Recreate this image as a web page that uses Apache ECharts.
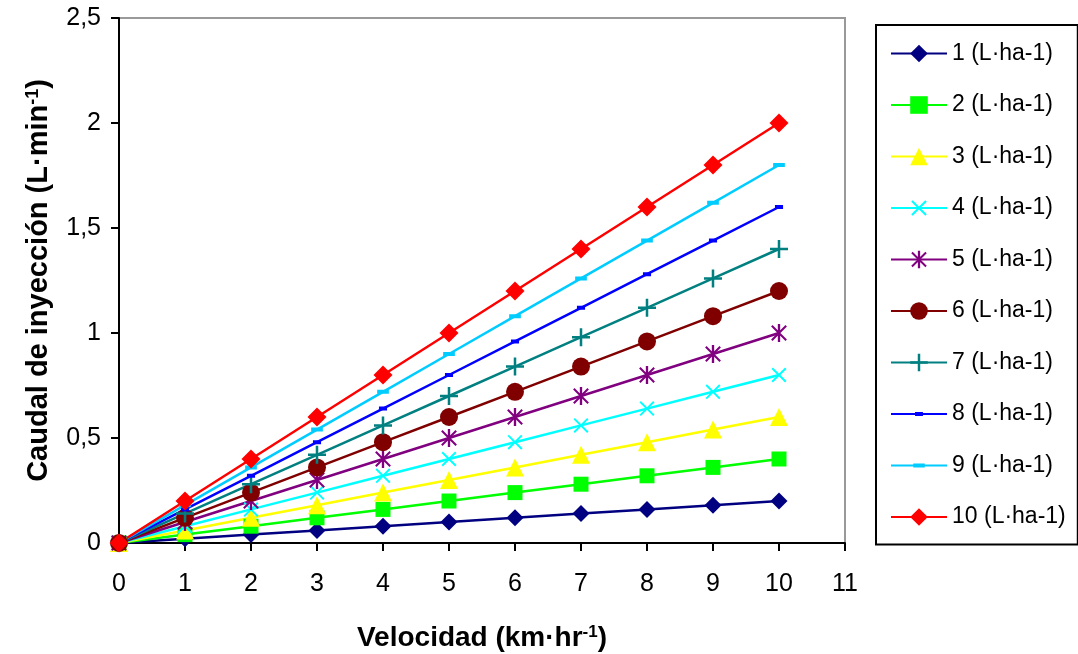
<!DOCTYPE html>
<html>
<head>
<meta charset="utf-8">
<script src="https://cdn.jsdelivr.net/npm/echarts@6/dist/echarts.min.js"></script>
<style>
  html, body { margin: 0; padding: 0; background: #fff; }
  #main { width: 1078px; height: 654px; }
</style>
</head>
<body>
<div id="main"></div>
<script>
var velocidad = [0, 1, 2, 3, 4, 5, 6, 7, 8, 9, 10];

var dosis1  = [0, 0.02, 0.04, 0.06, 0.08, 0.10, 0.12, 0.14, 0.16, 0.18, 0.20];
var dosis2  = [0, 0.04, 0.08, 0.12, 0.16, 0.20, 0.24, 0.28, 0.32, 0.36, 0.40];
var dosis3  = [0, 0.06, 0.12, 0.18, 0.24, 0.30, 0.36, 0.42, 0.48, 0.54, 0.60];
var dosis4  = [0, 0.08, 0.16, 0.24, 0.32, 0.40, 0.48, 0.56, 0.64, 0.72, 0.80];
var dosis5  = [0, 0.10, 0.20, 0.30, 0.40, 0.50, 0.60, 0.70, 0.80, 0.90, 1.00];
var dosis6  = [0, 0.12, 0.24, 0.36, 0.48, 0.60, 0.72, 0.84, 0.96, 1.08, 1.20];
var dosis7  = [0, 0.14, 0.28, 0.42, 0.56, 0.70, 0.84, 0.98, 1.12, 1.26, 1.40];
var dosis8  = [0, 0.16, 0.32, 0.48, 0.64, 0.80, 0.96, 1.12, 1.28, 1.44, 1.60];
var dosis9  = [0, 0.18, 0.36, 0.54, 0.72, 0.90, 1.08, 1.26, 1.44, 1.62, 1.80];
var dosis10 = [0, 0.20, 0.40, 0.60, 0.80, 1.00, 1.20, 1.40, 1.60, 1.80, 2.00];

var nombres = ['1 (L·ha-1)', '2 (L·ha-1)', '3 (L·ha-1)', '4 (L·ha-1)', '5 (L·ha-1)',
               '6 (L·ha-1)', '7 (L·ha-1)', '8 (L·ha-1)', '9 (L·ha-1)', '10 (L·ha-1)'];
var yTicks = ['0', '0,5', '1', '1,5', '2', '2,5'];

var FONT = '"Liberation Sans", Arial, sans-serif';

// marcadores estilo Excel (caja 0..20 para que la leyenda no los deforme)
var SYM_X = 'path://M0,0L0,0ZM20,20L20,20Z' +
    'M2.8,1.2L18.8,17.2L17.2,18.8L1.2,2.8Z' +
    'M2.8,18.8L1.2,17.2L17.2,1.2L18.8,2.8Z';
var SYM_AST = 'path://M0,0L0,0ZM20,20L20,20Z' +
    'M8.7,0H11.3V20H8.7Z' +
    'M2.8,1.2L18.8,17.2L17.2,18.8L1.2,2.8Z' +
    'M2.8,18.8L1.2,17.2L17.2,1.2L18.8,2.8Z';
var SYM_PLUS = 'path://M0,0L0,0ZM20,20L20,20Z' +
    'M8.6,0H11.4V8.6H20V11.4H11.4V20H8.6V11.4H0V8.6H8.6Z';
var SYM_DASH_S = 'path://M0,0L0,0ZM20,20L20,20ZM5.5,7.8H14.5V12.2H5.5Z';
var SYM_DASH_L = 'path://M0,0L0,0ZM20,20L20,20ZM3.5,7.8H16.5V12.2H3.5Z';

function pares(ys) {
    return velocidad.map(function (x, i) { return [x, ys[i]]; });
}

function serie(idx, datos, color, symbol, size) {
    return {
        name: nombres[idx],
        type: 'line',
        data: pares(datos),
        symbol: symbol,
        symbolSize: size,
        showAllSymbol: true,
        lineStyle: { color: color, width: 2.5 },
        itemStyle: { color: color, borderWidth: 0 },
        emphasis: { disabled: true }
    };
}

var chart = echarts.init(document.getElementById('main'));

chart.setOption({
    animation: false,
    backgroundColor: '#fff',
    textStyle: { fontFamily: FONT },
    grid: {
        left: 119,
        right: 233,
        top: 18,
        bottom: 111,
        outerBoundsMode: 'none',
        containLabel: false,
        show: true,
        borderColor: '#999',
        borderWidth: 2,
        backgroundColor: 'transparent'
    },
    legend: {
        orient: 'vertical',
        left: 876,
        top: 25,
        padding: [17, 12, 16, 14],
        itemWidth: 56,
        itemHeight: 22,
        itemGap: 28.5,
        borderColor: '#000',
        borderWidth: 2,
        textStyle: { fontSize: 23, color: '#000', fontFamily: FONT },
        data: nombres
    },
    xAxis: {
        type: 'value',
        min: 0,
        max: 11,
        interval: 1,
        name: '{t|Velocidad (km·hr}{s|-1}{t|)}',
        nameLocation: 'middle',
        nameGap: 81,
        nameTextStyle: {
            rich: {
                t: { fontSize: 28, fontWeight: 'bold', color: '#000', fontFamily: FONT },
                s: { fontSize: 17, fontWeight: 'bold', color: '#000', fontFamily: FONT, verticalAlign: 'top' }
            }
        },
        axisLine: { lineStyle: { color: '#000', width: 2 } },
        axisTick: { length: 8, lineStyle: { color: '#000', width: 2 } },
        axisLabel: { margin: 29, fontSize: 25, color: '#000', fontFamily: FONT },
        splitLine: { show: false }
    },
    yAxis: {
        type: 'value',
        min: 0,
        max: 2.5,
        interval: 0.5,
        name: '{t|Caudal de inyección (L·min}{s|-1}{t|)}',
        nameLocation: 'middle',
        nameGap: 66,
        nameTextStyle: {
            rich: {
                t: { fontSize: 29, fontWeight: 'bold', color: '#000', fontFamily: FONT },
                s: { fontSize: 18, fontWeight: 'bold', color: '#000', fontFamily: FONT, verticalAlign: 'top' }
            }
        },
        axisLine: { show: true, lineStyle: { color: '#000', width: 2 } },
        axisTick: { show: true, length: 8, lineStyle: { color: '#000', width: 2 } },
        axisLabel: {
            margin: 18,
            fontSize: 25,
            color: '#000',
            fontFamily: FONT,
            formatter: function (v) { return yTicks[Math.round(v / 0.5)]; }
        },
        splitLine: { show: false }
    },
    series: [
        serie(0, dosis1, '#000080', 'diamond', 17),
        serie(1, dosis2, '#00FF00', 'rect', 15),
        serie(2, dosis3, '#FFFF00', 'triangle', 18),
        serie(3, dosis4, '#00FFFF', SYM_X, 17),
        serie(4, dosis5, '#800080', SYM_AST, 18),
        serie(5, dosis6, '#800000', 'circle', 18),
        serie(6, dosis7, '#008080', SYM_PLUS, 18),
        serie(7, dosis8, '#0000FF', SYM_DASH_S, 18),
        serie(8, dosis9, '#00CCFF', SYM_DASH_L, 18),
        serie(9, dosis10, '#FF0000', 'diamond', 19)
    ]
});
</script>
</body>
</html>
